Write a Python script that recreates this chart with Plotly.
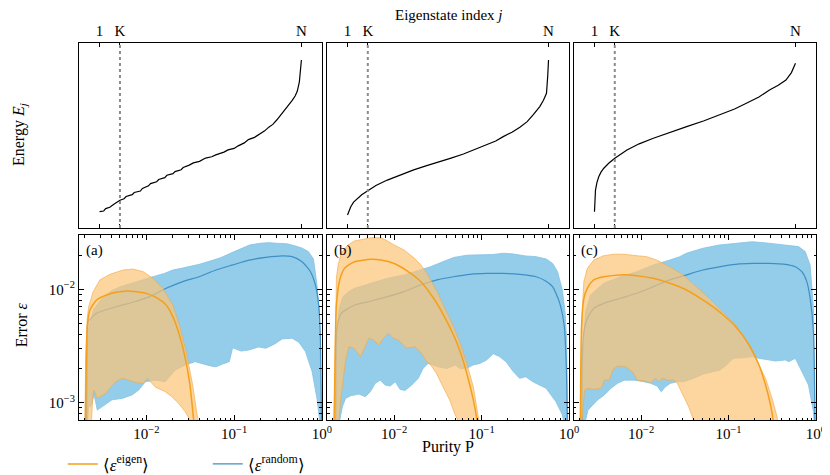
import plotly.graph_objects as go

# ---- top row: sorted energies vs eigenstate index ----
N_STATES = 100
K_INDEX = 11
index_ticks = [1, K_INDEX, N_STATES]
index_labels = ["1", "K", "N"]

idx_a = [1, 3, 4, 6, 8, 11, 13, 14, 17, 18, 21, 22, 25, 26, 29, 30, 33, 34, 37, 38,
         41, 42, 45, 47, 50, 53, 56, 58, 62, 64, 67, 69, 72, 74, 77, 79, 82, 84, 86,
         88, 90, 92, 94, 95.5, 97, 98, 99, 99.6, 100]
energy_a = [0.088, 0.092, 0.105, 0.112, 0.128, 0.150, 0.158, 0.170, 0.180, 0.192, 0.200,
            0.214, 0.228, 0.240, 0.250, 0.262, 0.272, 0.285, 0.294, 0.305, 0.315, 0.327,
            0.340, 0.352, 0.360, 0.378, 0.385, 0.395, 0.410, 0.422, 0.430, 0.444, 0.460,
            0.478, 0.490, 0.505, 0.525, 0.545, 0.560, 0.585, 0.612, 0.640, 0.668, 0.690,
            0.715, 0.740, 0.790, 0.850, 0.908]

idx_b = [1, 1.6, 2.6, 4, 5.9, 8, 11, 15, 20.6, 27, 33.6, 40, 46.7, 52, 58.1, 64, 69.6,
         74, 77.7, 82, 85.9, 89.5, 92.4, 95.7, 97.5, 99, 99.6, 100]
energy_b = [0.070, 0.092, 0.115, 0.140, 0.161, 0.180, 0.202, 0.230, 0.259, 0.288, 0.314,
            0.337, 0.358, 0.378, 0.400, 0.425, 0.449, 0.470, 0.494, 0.518, 0.545, 0.575,
            0.611, 0.656, 0.690, 0.728, 0.820, 0.908]

idx_c = [1, 1.2, 1.5, 2.2, 3.1, 4.2, 5.6, 8, 11, 17, 23, 30, 38, 46.4, 55, 62.7, 70,
         75.8, 82, 87.2, 91.5, 95.3, 98, 100]
energy_c = [0.088, 0.160, 0.205, 0.245, 0.277, 0.302, 0.323, 0.350, 0.377, 0.422, 0.455,
            0.485, 0.517, 0.548, 0.580, 0.611, 0.643, 0.674, 0.708, 0.746, 0.772, 0.800,
            0.840, 0.890]

# ---- bottom row: error vs purity, (P, eps) pairs ----
purity_ticks = [1e-2, 1e-1, 1]
purity_labels = ["10<sup>−2</sup>", "10<sup>−1</sup>", "10<sup>0</sup>"]
error_ticks = [1e-3, 1e-2]
error_labels = ["10<sup>−3</sup>", "10<sup>−2</sup>"]

# panel (a)
a_eig_up = [(1.98e-3, 5e-4), (2.04e-3, 2.5e-3), (2.12e-3, 5.5e-3), (2.2e-3, 7.0e-3),
            (2.48e-3, 9.53e-3), (2.96e-3, 1.21e-2), (3.84e-3, 1.355e-2), (5.45e-3, 1.48e-2),
            (7.05e-3, 1.51e-2), (9.2e-3, 1.43e-2), (1.19e-2, 1.25e-2), (1.54e-2, 1.02e-2),
            (2.0e-2, 7.27e-3), (2.38e-2, 4.84e-3), (2.84e-2, 2.82e-3), (3.37e-2, 1.43e-3),
            (3.84e-2, 7.3e-4), (4.0e-2, 5e-4)]
a_eig_mean = [(2.02e-3, 5e-4), (2.09e-3, 3.45e-3), (2.15e-3, 5.18e-3), (2.28e-3, 6.56e-3),
              (2.71e-3, 8.05e-3), (3.52e-3, 8.91e-3), (4.57e-3, 9.4e-3), (5.94e-3, 9.66e-3),
              (7.71e-3, 9.53e-3), (1.0e-2, 9.2e-3), (1.3e-2, 8.43e-3), (1.68e-2, 7.27e-3),
              (2.0e-2, 5.74e-3), (2.38e-2, 3.95e-3), (2.72e-2, 2.64e-3), (3.1e-2, 1.53e-3),
              (3.44e-2, 7.3e-4), (3.6e-2, 5e-4)]
a_eig_lo = [(2.05e-3, 5e-4), (2.35e-3, 6e-4), (2.45e-3, 1.1e-3), (2.53e-3, 1.29e-3),
            (2.76e-3, 1.09e-3), (3.44e-3, 1.21e-3), (4.46e-3, 1.53e-3), (5.29e-3, 1.64e-3),
            (6.31e-3, 1.58e-3), (7.83e-3, 1.50e-3), (9.3e-3, 1.48e-3), (1.02e-2, 1.64e-3),
            (1.27e-2, 1.37e-3), (1.64e-2, 1.25e-3), (1.95e-2, 1.13e-3), (2.32e-2, 9.9e-4),
            (2.77e-2, 8.3e-4), (3.15e-2, 7.0e-4), (3.3e-2, 5e-4)]
a_rnd_up = [(2.05e-3, 5e-4), (2.12e-3, 3.0e-3), (2.2e-3, 4.5e-3), (2.5e-3, 6.6e-3),
            (3.0e-3, 8.0e-3), (4.0e-3, 9.7e-3), (5.0e-3, 1.05e-2), (6.0e-3, 1.10e-2),
            (8.0e-3, 1.18e-2), (1.0e-2, 1.25e-2), (1.3e-2, 1.32e-2), (1.6e-2, 1.38e-2),
            (2.0e-2, 1.48e-2), (2.5e-2, 1.53e-2), (3.0e-2, 1.57e-2), (4.0e-2, 1.66e-2),
            (5.0e-2, 1.75e-2), (7.0e-2, 1.90e-2), (0.1, 2.15e-2), (0.12, 2.3e-2),
            (0.15, 2.46e-2), (0.2, 2.55e-2), (0.25, 2.58e-2), (0.3, 2.55e-2), (0.4, 2.52e-2),
            (0.5, 2.41e-2), (0.6, 2.30e-2), (0.7, 2.15e-2), (0.8, 1.85e-2), (0.877, 1.09e-2),
            (0.933, 6.35e-3), (0.957, 2.15e-3), (0.98, 5e-4)]
a_rnd_mean = [(2.08e-3, 5e-4), (2.12e-3, 3.0e-3), (2.18e-3, 5.18e-3), (2.71e-3, 6.14e-3),
              (4.57e-3, 7.03e-3), (7.05e-3, 7.68e-3), (1.09e-2, 8.61e-3), (1.68e-2, 1.02e-2),
              (2.6e-2, 1.17e-2), (4.0e-2, 1.29e-2), (6.2e-2, 1.48e-2), (9.6e-2, 1.64e-2),
              (0.148, 1.81e-2), (0.229, 1.91e-2), (0.352, 1.97e-2), (0.457, 1.94e-2),
              (0.593, 1.75e-2), (0.739, 1.43e-2), (0.842, 1.09e-2), (0.916, 7.27e-3),
              (0.957, 3.95e-3), (0.99, 5e-4)]
a_rnd_lo = [(2.1e-3, 5e-4), (2.2e-3, 9.5e-4), (2.3e-3, 9.2e-4), (2.42e-3, 1.0e-3),
            (2.53e-3, 1.2e-3), (2.76e-3, 8.6e-4), (3.14e-3, 9.2e-4), (4.07e-3, 1.06e-3),
            (5.29e-3, 1.09e-3), (6.87e-3, 1.17e-3), (8.18e-3, 1.29e-3), (9.75e-3, 1.53e-3),
            (1.27e-2, 1.58e-3), (1.64e-2, 1.53e-3), (2.13e-2, 1.94e-3), (2.77e-2, 2.15e-3),
            (3.59e-2, 2.30e-3), (4.5e-2, 2.2e-3), (5.53e-2, 2.1e-3), (6.2e-2, 2.07e-3),
            (7.5e-2, 2.2e-3), (8.8e-2, 2.30e-3), (9.6e-2, 3.05e-3), (0.12, 2.85e-3),
            (0.148, 2.92e-3), (0.19, 3.1e-3), (0.229, 3.02e-3), (0.29, 3.3e-3),
            (0.352, 3.65e-3), (0.457, 3.70e-3), (0.545, 3.41e-3), (0.648, 2.82e-3),
            (0.771, 1.88e-3), (0.877, 1.09e-3), (0.933, 7.3e-4), (0.97, 5e-4)]

# panel (b)
b_eig_up = [(2.05e-3, 5e-4), (2.13e-3, 6.79e-3), (2.19e-3, 1.25e-2), (2.29e-3, 1.64e-2),
            (2.49e-3, 2.08e-2), (2.97e-3, 2.46e-2), (3.53e-3, 2.67e-2), (5.45e-3, 2.85e-2),
            (7.07e-3, 2.85e-2), (8.41e-3, 2.67e-2), (1e-2, 2.46e-2), (1.3e-2, 2.22e-2),
            (1.68e-2, 1.90e-2), (2.0e-2, 1.66e-2), (2.38e-2, 1.38e-2), (3.1e-2, 9.53e-3),
            (4.02e-2, 6.34e-3), (4.78e-2, 4.67e-3), (5.69e-2, 3.34e-3), (6.77e-2, 2.22e-3),
            (8.05e-2, 1.38e-3), (9.2e-2, 8.05e-4), (0.1, 5e-4)]
b_eig_mean = [(2.05e-3, 5e-4), (2.13e-3, 3.45e-3), (2.19e-3, 7.27e-3), (2.39e-3, 1.21e-2),
              (2.71e-3, 1.53e-2), (3.53e-3, 1.75e-2), (5.45e-3, 1.84e-2), (7.07e-3, 1.81e-2),
              (1e-2, 1.69e-2), (1.42e-2, 1.45e-2), (2.0e-2, 1.18e-2), (2.84e-2, 8.3e-3),
              (3.68e-2, 5.93e-3), (4.78e-2, 3.95e-3), (5.69e-2, 2.82e-3), (6.77e-2, 1.82e-3),
              (8.05e-2, 1.06e-3), (8.79e-2, 7.3e-4), (9.2e-2, 5e-4)]
b_eig_lo = [(2.05e-3, 5e-4), (2.3e-3, 6e-4), (2.45e-3, 1.06e-3), (2.79e-3, 2.38e-3),
            (3.05e-3, 3.12e-3), (3.47e-3, 3.02e-3), (4.12e-3, 2.55e-3), (4.50e-3, 2.92e-3),
            (5.13e-3, 3.70e-3), (5.84e-3, 3.57e-3), (6.65e-3, 3.23e-3), (7.58e-3, 3.70e-3),
            (8.63e-3, 4.09e-3), (9.84e-3, 3.70e-3), (1.12e-2, 3.57e-3), (1.39e-2, 3.02e-3),
            (1.73e-2, 3.12e-3), (2.06e-2, 2.73e-3), (2.35e-2, 2.30e-3), (2.56e-2, 2.2e-3),
            (3.05e-2, 1.82e-3), (3.62e-2, 1.38e-3), (4.31e-2, 1.06e-3), (4.91e-2, 8.05e-4),
            (5.35e-2, 7.0e-4), (5.6e-2, 5e-4)]
b_rnd_up = [(2.15e-3, 5e-4), (2.2e-3, 3.95e-3), (2.35e-3, 6.8e-3), (2.6e-3, 8.6e-3),
            (3.0e-3, 9.5e-3), (3.53e-3, 1.02e-2), (5.45e-3, 1.13e-2), (8.4e-3, 1.25e-2),
            (1.3e-2, 1.34e-2), (2.0e-2, 1.48e-2), (2.6e-2, 1.58e-2), (3.6e-2, 1.75e-2),
            (4.8e-2, 1.91e-2), (6.8e-2, 2.0e-2), (9.6e-2, 2.0e-2), (0.136, 2.03e-2),
            (0.18, 2.08e-2), (0.23, 2.05e-2), (0.32, 1.97e-2), (0.42, 1.94e-2),
            (0.55, 1.85e-2), (0.65, 1.69e-2), (0.74, 1.43e-2), (0.84, 9.8e-3),
            (0.9, 6.34e-3), (0.94, 3.45e-3), (0.97, 5e-4)]
b_rnd_mean = [(2.15e-3, 5e-4), (2.19e-3, 3.95e-3), (2.29e-3, 5.18e-3), (2.49e-3, 6.14e-3),
              (3.53e-3, 7.27e-3), (5.45e-3, 7.88e-3), (8.41e-3, 8.61e-3), (1.3e-2, 9.53e-3),
              (2.0e-2, 1.09e-2), (3.1e-2, 1.21e-2), (4.78e-2, 1.29e-2), (7.4e-2, 1.355e-2),
              (0.114, 1.38e-2), (0.176, 1.38e-2), (0.272, 1.355e-2), (0.42, 1.29e-2),
              (0.546, 1.18e-2), (0.649, 1.055e-2), (0.773, 7.78e-3), (0.879, 4.84e-3),
              (0.93, 2.15e-3), (0.96, 5e-4)]
b_rnd_lo = [(2.2e-3, 5e-4), (2.56e-3, 9.2e-4), (2.79e-3, 1.09e-3), (3.18e-3, 1.15e-3),
            (3.95e-3, 1.19e-3), (4.70e-3, 1.13e-3), (5.35e-3, 1.25e-3), (6.09e-3, 1.48e-3),
            (6.93e-3, 1.58e-3), (7.91e-3, 1.43e-3), (9.01e-3, 1.40e-3), (1.03e-2, 1.53e-3),
            (1.17e-2, 1.31e-3), (1.33e-2, 1.28e-3), (1.59e-2, 1.43e-3), (1.89e-2, 1.64e-3),
            (2.15e-2, 2.01e-3), (2.45e-2, 2.22e-3), (3.2e-2, 2.07e-3), (4.03e-2, 2.0e-3),
            (5.0e-2, 2.15e-3), (5.69e-2, 2.0e-3), (6.77e-2, 2.01e-3), (8.0e-2, 2.15e-3),
            (9.6e-2, 2.22e-3), (0.114, 2.38e-3), (0.136, 2.7e-3), (0.16, 2.55e-3),
            (0.192, 2.28e-3), (0.23, 1.88e-3), (0.272, 1.64e-3), (0.32, 1.69e-3),
            (0.385, 1.53e-3), (0.546, 1.34e-3), (0.708, 1.02e-3), (0.84, 7.8e-4),
            (0.93, 5e-4)]

# panel (c)
c_eig_up = [(2.0e-3, 5e-4), (2.13e-3, 6.8e-3), (2.22e-3, 1.17e-2), (2.43e-3, 1.53e-2),
            (2.88e-3, 1.81e-2), (3.74e-3, 1.98e-2), (4.86e-3, 2.04e-2), (6.31e-3, 2.04e-2),
            (8.94e-3, 1.98e-2), (1.16e-2, 1.94e-2), (1.51e-2, 1.81e-2), (2.13e-2, 1.58e-2),
            (3.02e-2, 1.34e-2), (4.28e-2, 1.055e-2), (6.04e-2, 8.33e-3), (8.55e-2, 6.34e-3),
            (0.121, 4.84e-3), (0.157, 3.57e-3), (0.204, 2.46e-3), (0.265, 1.64e-3),
            (0.315, 1.09e-3), (0.359, 7.5e-4), (0.38, 5e-4)]
c_eig_mean = [(2.02e-3, 5e-4), (2.09e-3, 4.84e-3), (2.22e-3, 8.33e-3), (2.43e-3, 1.02e-2),
              (2.88e-3, 1.21e-2), (3.74e-3, 1.29e-2), (5.78e-3, 1.34e-2), (8.94e-3, 1.32e-2),
              (1.38e-2, 1.25e-2), (2.13e-2, 1.13e-2), (3.30e-2, 9.86e-3), (5.08e-2, 8.05e-3),
              (7.85e-2, 6.34e-3), (0.121, 4.68e-3), (0.172, 3.23e-3), (0.223, 2.15e-3),
              (0.265, 1.43e-3), (0.302, 9.55e-4), (0.321, 7.3e-4), (0.34, 5e-4)]
c_eig_lo = [(2.05e-3, 5e-4), (2.16e-3, 8.6e-4), (2.26e-3, 1.29e-3), (2.47e-3, 1.34e-3),
            (2.81e-3, 1.31e-3), (3.5e-3, 1.34e-3), (3.81e-3, 1.58e-3), (4.34e-3, 1.58e-3),
            (4.73e-3, 1.94e-3), (5.39e-3, 2.11e-3), (6.71e-3, 2.07e-3), (7.97e-3, 1.87e-3),
            (9.08e-3, 1.58e-3), (1.08e-2, 1.56e-3), (1.29e-2, 1.5e-3), (1.47e-2, 1.64e-3),
            (1.60e-2, 1.53e-3), (1.74e-2, 1.64e-3), (1.99e-2, 1.58e-3), (2.36e-2, 1.58e-3),
            (2.58e-2, 1.5e-3), (3.07e-2, 1.13e-3), (3.5e-2, 9.2e-4), (3.98e-2, 7.0e-4),
            (4.2e-2, 5e-4)]
c_rnd_up = [(2.1e-3, 5e-4), (2.13e-3, 2.46e-3), (2.32e-3, 6.34e-3), (2.64e-3, 8.91e-3),
            (3.74e-3, 1.13e-2), (5.78e-3, 1.29e-2), (8.94e-3, 1.43e-2), (1.38e-2, 1.64e-2),
            (2.13e-2, 1.81e-2), (2.77e-2, 1.94e-2), (3.30e-2, 2.08e-2), (5.08e-2, 2.3e-2),
            (7.85e-2, 2.46e-2), (0.121, 2.55e-2), (0.187, 2.63e-2), (0.289, 2.55e-2),
            (0.447, 2.46e-2), (0.632, 2.38e-2), (0.753, 2.15e-2), (0.857, 1.64e-2),
            (0.935, 6.79e-3), (0.977, 5e-4)]
c_rnd_mean = [(2.1e-3, 5e-4), (2.13e-3, 2.46e-3), (2.22e-3, 4.22e-3), (2.43e-3, 5.55e-3),
              (2.88e-3, 6.79e-3), (3.74e-3, 7.52e-3), (5.78e-3, 8.33e-3), (8.94e-3, 9.22e-3),
              (1.38e-2, 1.055e-2), (2.13e-2, 1.21e-2), (3.30e-2, 1.34e-2), (5.08e-2, 1.48e-2),
              (7.85e-2, 1.58e-2), (0.121, 1.66e-2), (0.187, 1.69e-2), (0.289, 1.69e-2),
              (0.447, 1.66e-2), (0.58, 1.58e-2), (0.689, 1.43e-2), (0.785, 1.17e-2),
              (0.857, 8.33e-3), (0.935, 4.22e-3), (0.977, 5e-4)]
c_rnd_lo = [(2.1e-3, 5e-4), (2.47e-3, 8.6e-4), (2.94e-3, 9.9e-4), (3.2e-3, 1.06e-3),
            (3.81e-3, 1.17e-3), (4.54e-3, 1.34e-3), (5.39e-3, 1.48e-3), (6.42e-3, 1.58e-3),
            (8.33e-3, 1.58e-3), (1.08e-2, 1.53e-3), (1.29e-2, 1.48e-3), (1.53e-2, 1.40e-3),
            (1.70e-2, 1.25e-3), (1.90e-2, 1.38e-3), (2.17e-2, 1.48e-3), (2.36e-2, 1.5e-3),
            (2.58e-2, 1.53e-3), (3.07e-2, 1.53e-3), (3.98e-2, 1.64e-3), (5.17e-2, 1.79e-3),
            (6.71e-2, 1.87e-3), (7.99e-2, 1.94e-3), (9.49e-2, 2.15e-3), (0.113, 2.46e-3),
            (0.157, 2.5e-3), (0.187, 2.55e-3), (0.223, 2.46e-3), (0.289, 2.38e-3),
            (0.344, 2.33e-3), (0.447, 2.38e-3), (0.487, 2.30e-3), (0.58, 2.46e-3),
            (0.632, 2.15e-3), (0.689, 1.88e-3), (0.753, 1.64e-3), (0.82, 1.43e-3),
            (0.857, 1.25e-3), (0.935, 8.3e-4), (0.977, 5e-4)]

panel_labels = ["(a)", "(b)", "(c)"]

# ---- styling ----
FONT = "Liberation Serif"
ORANGE_LINE = "#f5a01a"
ORANGE_FILL = "rgba(252,195,117,0.7)"
ORANGE_EDGE = "rgba(243,168,70,0.8)"
BLUE_LINE = "#3f8fc5"
BLUE_FILL = "#93cdea"
BLUE_EDGE = "#84c2e4"

col_domains = [[0.0, 0.3297], [0.3365, 0.6649], [0.6716, 1.0]]
top_domain = [0.5093, 1.0]
bottom_domain = [0.0, 0.4907]


def ax_id(n):
    # plotly names the first axis pair "x"/"y", not "x1"/"y1"
    return ("x", "y") if n == 1 else (f"x{n}", f"y{n}")


def unzip(pairs):
    return [p for p, _ in pairs], [e for _, e in pairs]


def band(upper, lower, fill, edge, xa, ya):
    up_x, up_y = unzip(upper)
    lo_x, lo_y = unzip(lower)
    return go.Scatter(
        x=up_x + lo_x[::-1], y=up_y + lo_y[::-1], fill="toself", fillcolor=fill,
        mode="lines", line=dict(color=edge, width=0.8), showlegend=False,
        hoverinfo="skip", xaxis=xa, yaxis=ya,
    )


def mean_line(pairs, color, width, name, show, xa, ya):
    x, y = unzip(pairs)
    return go.Scatter(
        x=x, y=y, mode="lines",
        line=dict(color=color, width=width, shape="spline", smoothing=0.6),
        name=name, showlegend=show, xaxis=xa, yaxis=ya,
    )


fig = go.Figure()

energies = [(idx_a, energy_a), (idx_b, energy_b), (idx_c, energy_c)]
for i, (idx, en) in enumerate(energies):
    xa, ya = ax_id(i + 1)
    fig.add_trace(go.Scatter(
        x=idx, y=en, mode="lines", line=dict(color="black", width=1.2),
        showlegend=False, xaxis=xa, yaxis=ya,
    ))
    fig.add_shape(
        type="line", xref=xa, yref=f"{ya} domain", x0=K_INDEX, x1=K_INDEX,
        y0=0, y1=1, line=dict(color="#8c8c8c", width=2, dash="dot"),
    )

panels = [
    (a_eig_up, a_eig_mean, a_eig_lo, a_rnd_up, a_rnd_mean, a_rnd_lo),
    (b_eig_up, b_eig_mean, b_eig_lo, b_rnd_up, b_rnd_mean, b_rnd_lo),
    (c_eig_up, c_eig_mean, c_eig_lo, c_rnd_up, c_rnd_mean, c_rnd_lo),
]
for i, (e_up, e_mean, e_lo, r_up, r_mean, r_lo) in enumerate(panels):
    xa, ya = ax_id(i + 4)
    fig.add_trace(band(r_up, r_lo, BLUE_FILL, BLUE_EDGE, xa, ya))
    fig.add_trace(mean_line(r_mean, BLUE_LINE, 1.2, "⟨<i>ε</i><sup>random</sup>⟩",
                            i == 0, xa, ya))
    fig.add_trace(band(e_up, e_lo, ORANGE_FILL, ORANGE_EDGE, xa, ya))
    fig.add_trace(mean_line(e_mean, ORANGE_LINE, 1.5, "⟨<i>ε</i><sup>eigen</sup>⟩",
                            i == 0, xa, ya))
    fig.add_annotation(
        text=panel_labels[i], xref=f"{xa} domain", yref=f"{ya} domain",
        x=0.02, y=0.975, xanchor="left", yanchor="top", showarrow=False,
        font=dict(family=FONT, size=15, color="black"),
    )

frame = dict(showline=True, linewidth=1, linecolor="black", mirror="allticks",
             showgrid=False, zeroline=False, tickcolor="black", automargin=False,
             tickfont=dict(family=FONT, size=15, color="black"))

purity_minor = [m * 10 ** d for d in (-3, -2, -1) for m in range(2, 10)]
error_minor = [m * 10 ** d for d in (-4, -3, -2) for m in range(2, 10)]

# the page puts the figure 8 px in from the top-left corner, so size and
# margins are chosen to land the plot area on the reference pixels
layout = dict(
    width=822, height=467, margin=dict(l=71, r=14, t=35, b=55, autoexpand=False),
    plot_bgcolor="white", paper_bgcolor="white",
    font=dict(family=FONT, size=16, color="black"),
)
for i in range(3):
    n = i + 1
    xa, ya = ax_id(n)
    layout["xaxis" if n == 1 else f"xaxis{n}"] = dict(
        frame, domain=col_domains[i], anchor=ya, range=[-9.1, 110.1],
        tickvals=index_ticks, ticktext=index_labels, side="top",
        ticks="inside", ticklen=4,
    )
    layout["yaxis" if n == 1 else f"yaxis{n}"] = dict(
        frame, domain=top_domain, anchor=xa, range=[0, 1],
        showticklabels=False, ticks="",
    )
    m = i + 4
    xa, ya = ax_id(m)
    layout[f"xaxis{m}"] = dict(
        frame, domain=col_domains[i], anchor=ya, type="log", range=[-2.767, 0],
        tickvals=purity_ticks, ticktext=purity_labels, ticks="inside", ticklen=5,
        minor=dict(tickvals=purity_minor, ticks="inside", ticklen=2.5, tickcolor="black"),
    )
    layout[f"yaxis{m}"] = dict(
        frame, domain=bottom_domain, anchor=xa, type="log", range=[-3.153, -1.521],
        tickvals=error_ticks, ticktext=error_labels, ticks="inside", ticklen=5,
        showticklabels=(i == 0),
        minor=dict(tickvals=error_minor, ticks="inside", ticklen=2.5, tickcolor="black"),
    )

layout["legend"] = dict(
    orientation="h", x=-0.022, xanchor="left", y=-0.07, yanchor="top",
    font=dict(family=FONT, size=17), traceorder="reversed", entrywidth=100,
    bgcolor="rgba(0,0,0,0)",
)
fig.update_layout(**layout)

fig.add_annotation(text="Eigenstate index <i>j</i>", xref="paper", yref="paper",
                   x=0.5007, y=1.074, showarrow=False, yanchor="middle",
                   font=dict(family=FONT, size=15))
fig.add_annotation(text="Purity P", xref="paper", yref="paper",
                   x=0.5007, y=-0.072, showarrow=False, yanchor="middle",
                   font=dict(family=FONT, size=16))
fig.add_annotation(text="Energy <i>E<sub>j</sub></i>", xref="paper", yref="paper",
                   x=-0.080, y=0.756, showarrow=False, textangle=-90,
                   xanchor="center", yanchor="middle", font=dict(family=FONT, size=16))
fig.add_annotation(text="Error <i>ε</i>", xref="paper", yref="paper",
                   x=-0.077, y=0.252, showarrow=False, textangle=-90,
                   xanchor="center", yanchor="middle", font=dict(family=FONT, size=16))

fig.write_html("out.html")
